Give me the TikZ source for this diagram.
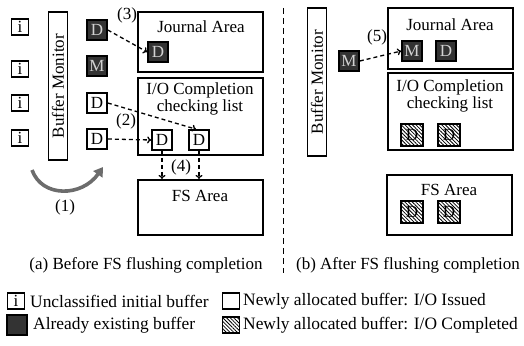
\documentclass[tikz,border=0pt]{standalone}
\usepackage{fontspec}
\setmainfont{Liberation Serif}
\usetikzlibrary{arrows.meta,patterns.meta,calc}
\begin{document}
\begin{tikzpicture}[x=1pt,y=-1pt,
  every node/.style={font=\fontsize{17}{18}\selectfont, inner sep=0pt},
  lgtext/.style={font=\fontsize{17.4}{19}\selectfont, anchor=west},
  buf/.style={draw=black, line width=1.6pt, fill=white, minimum width=20pt, minimum height=20pt},
  ibuf/.style={draw=black, line width=1.6pt, fill=white, minimum width=17pt, minimum height=16pt},
  dbuf/.style={draw=black, line width=1.6pt, fill=darkbuf, text=lightgray!70!white, minimum width=20pt, minimum height=20pt},
  hbuf/.style={draw=black, line width=1.6pt, preaction={fill=white}, pattern={Lines[angle=-45,distance=2.6pt,line width=0.8pt]}, minimum width=22pt, minimum height=22pt},
  area/.style={draw=black, line width=2pt, minimum width=125pt},
  monitor/.style={draw=black, line width=1.8pt, rotate=90, minimum width=148pt, minimum height=19pt},
  darr/.style={dashed, dash pattern=on 4pt off 3pt, line width=1.3pt, -{To[length=4pt,width=7pt]}},
]
\definecolor{darkbuf}{HTML}{333333}
\useasboundingbox (0,0) rectangle (524,345);

% ---------- (a) left panel ----------
\node[ibuf] (i1) at (20,27) {i};
\node[ibuf] (i2) at (20,69) {i};
\node[ibuf] (i3) at (20,103) {i};
\node[ibuf] (i4) at (20,138) {i};

\node[monitor] (bm1) at (58,86) {Buffer Monitor};

\node[dbuf] (d1) at (97,30) {D};
\node[dbuf] (m1) at (97,66) {M};
\node[buf] (d2) at (97,103) {D};
\node[buf] (d3) at (97,139) {D};

\node[area, minimum height=60pt] (jl) at (200.5,42) {};
\node (jlt) at (201,27) {Journal Area};
\node[dbuf] (jd) at (158,52) {D};

\node[area, minimum height=77pt] (iol) at (200.5,116.5) {};
\node[align=center] (iolt) at (200,99) {I/O Completion\\[-1pt]checking list};
\node[buf] (io1) at (162,140) {D};
\node[buf] (io2) at (199,140) {D};

\node[area, minimum height=55pt] (fsl) at (200.5,207.5) {};
\node (fslt) at (200,196) {FS Area};

\draw[darr] (d1.east) -- (jd.west);
\draw[darr] (d2.east) -- ($(io2.north)+(-3,0)$);
\draw[darr] (d3.east) -- (io1.west);
\draw[darr] (io1.south) -- (io1.south |- fsl.north);
\draw[darr] (io2.south) -- (io2.south |- fsl.north);

\node (l3) at (127,15) {(3)};
\node (l2) at (126,121) {(2)};
\node (l4) at (181,167) {(4)};

\coordinate (arcs) at (32,170);
\coordinate (arce) at (103,167);
\draw[draw=gray!85!black, line width=3.6pt, -{Triangle[length=9pt,width=11pt]}]
  (arcs) .. controls (42,198) and (82,197) .. (arce);
\node (l1) at (65,207) {(1)};

\node (capa) at (146,265) {(a) Before FS flushing completion};

% ---------- separator ----------
\coordinate (sepT) at (283,8);
\coordinate (sepB) at (283,273);
\draw[line width=1pt, dash pattern=on 6pt off 4pt] (sepT) -- (sepB);

% ---------- (b) right panel ----------
\node[monitor] (bm2) at (317,82) {Buffer Monitor};
\node[dbuf] (m2) at (349,61) {M};

\node[area, minimum height=61pt] (jr) at (450.5,38.5) {};
\node (jrt) at (450,25) {Journal Area};
\node[dbuf] (jm) at (412,51) {M};
\node[dbuf] (jd2) at (446,51) {D};

\node[area, minimum height=77pt] (ior) at (450.5,111.5) {};
\node[align=center] (iort) at (450,96) {I/O Completion\\[-1pt]checking list};
\node[hbuf] (h1) at (412,135) {D};
\node[hbuf] (h2) at (449,135) {D};

\node[area, minimum height=60pt] (fsr) at (449.5,205) {};
\node (fsrt) at (449,190) {FS Area};
\node[hbuf] (h3) at (412,212) {D};
\node[hbuf] (h4) at (449,212) {D};

\draw[darr] (m2.east) -- (jm.west);
\node (l5) at (377,37) {(5)};

\node (capb) at (408,265) {(b) After FS flushing completion};

% ---------- legend ----------
\node[ibuf] (lg1) at (16,301) {i};
\node[lgtext] (lg1t) at (30,301) {Unclassified initial buffer};
\node[ibuf] (lg2) at (231,301) {};
\node[lgtext] (lg2t) at (243,301) {Newly allocated buffer: I/O Issued};
\node[dbuf] (lg3) at (17,325) {};
\node[lgtext] (lg3t) at (33,325) {Already existing buffer};
\node[hbuf, minimum width=17pt, minimum height=16pt] (lg4) at (231,325) {};
\node[lgtext] (lg4t) at (243,325) {Newly allocated buffer: I/O Completed};
\end{tikzpicture}
\end{document}
